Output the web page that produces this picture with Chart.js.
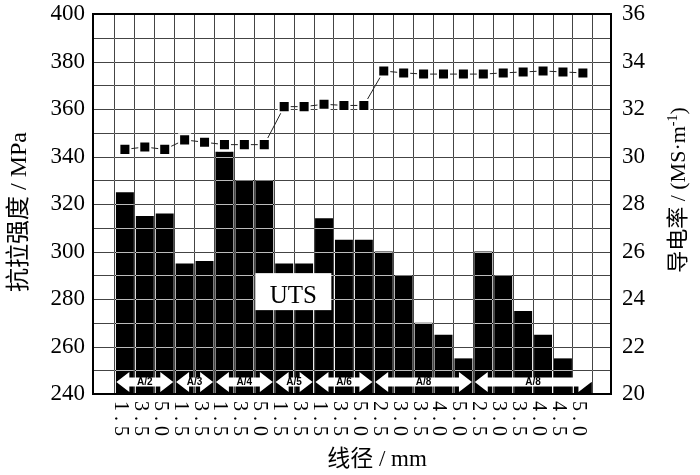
<!DOCTYPE html>
<html>
<head>
<meta charset="utf-8">
<script src="https://cdn.jsdelivr.net/npm/chart.js@4.4.0/dist/chart.umd.min.js"></script>
<style>
html,body{margin:0;padding:0;background:#fff;}
#wrap{width:700px;height:475px;position:relative;}
</style>
</head>
<body>
<div id="wrap"><canvas id="c"></canvas></div>
<script>
// ---- data ----
const categories = ['1.5','3.5','5.0','1.5','3.5','1.5','3.5','5.0','1.5','3.5','1.5','3.5','5.0','2.5','3.0','3.5','4.0','5.0','2.5','3.0','3.5','4.0','4.5','5.0'];
const utsValues = [325,315,316,295,296,342,330,330,295,295,314,305,305,300,290,270,265,255,300,290,275,265,255,245];
const conductivityValues = [30.3,30.4,30.3,30.7,30.6,30.5,30.5,30.5,32.1,32.1,32.2,32.15,32.15,33.6,33.52,33.47,33.47,33.47,33.47,33.52,33.56,33.6,33.56,33.52];
const groupNames = ['A/2','A/3','A/4','A/5','A/6','A/8','A/8'];
const groupSizes = [3,2,3,2,3,5,6];
const leftTicks = [240,260,280,300,320,340,360,380,400];
const rightTicks = [20,22,24,26,28,30,32,34,36];
const leftTitle = '抗拉强度 / MPa';
const rightTitleMain = '导电率 / (MS·m';
const rightTitleSup = '-1';
const rightTitleEnd = ')';
const xTitle = '线径 / mm';
const boxLabel = 'UTS';

const positions = categories.map((_, i) => i + 1);
const serif = '"Liberation Serif", "Noto Sans CJK SC", serif';

const decor = {
  id: 'decor',
  beforeDraw(chart) {
    const ctx = chart.ctx;
    ctx.save();
    ctx.fillStyle = '#fff';
    ctx.fillRect(0, 0, chart.width, chart.height);
    ctx.restore();
  },
  afterDatasetDraw(chart, args) {
    if (args.index !== 1) return;
    const ctx = chart.ctx, a = chart.chartArea, x = chart.scales.x, y = chart.scales.y;
    ctx.save();
    // group arrows
    let start = 1;
    const cy = a.bottom - 12, hl = 13, hh = 10, sh = 4.5;
    groupSizes.forEach((n, g) => {
      const end = start + n - 1;
      const x0 = x.getPixelForValue(start - 0.43), x1 = x.getPixelForValue(end + 0.43);
      ctx.beginPath();
      ctx.moveTo(x0, cy);
      ctx.lineTo(x0 + hl, cy - hh); ctx.lineTo(x0 + hl, cy - sh);
      ctx.lineTo(x1 - hl, cy - sh); ctx.lineTo(x1 - hl, cy - hh);
      ctx.lineTo(x1, cy);
      ctx.lineTo(x1 - hl, cy + hh); ctx.lineTo(x1 - hl, cy + sh);
      ctx.lineTo(x0 + hl, cy + sh); ctx.lineTo(x0 + hl, cy + hh);
      ctx.closePath();
      ctx.fillStyle = '#fff';
      ctx.fill();
      ctx.fillStyle = '#000';
      ctx.font = 'bold 10px "Liberation Sans", sans-serif';
      ctx.textAlign = 'center';
      ctx.textBaseline = 'middle';
      ctx.fillText(groupNames[g], (x0 + x1) / 2, cy + 0.5);
      start = end + 1;
    });
    // horizontal grid (inverted over bars)
    ctx.globalCompositeOperation = 'difference';
    ctx.strokeStyle = '#bbb';
    ctx.lineWidth = 1;
    for (let v = y.min + 10; v < y.max; v += 10) {
      const py = Math.round(y.getPixelForValue(v)) + 0.5;
      ctx.beginPath(); ctx.moveTo(a.left, py); ctx.lineTo(a.right, py); ctx.stroke();
    }
    ctx.globalCompositeOperation = 'source-over';
    // UTS label box
    const bx = x.getPixelForValue(9.46), by = y.getPixelForValue(283.1);
    ctx.fillStyle = '#fff';
    ctx.fillRect(bx - 38, by - 18.5, 76, 37);
    ctx.fillStyle = '#000';
    ctx.font = '25px ' + serif;
    ctx.textAlign = 'center';
    ctx.textBaseline = 'alphabetic';
    ctx.fillText(boxLabel, bx, by + 11);
    ctx.restore();
  },
  afterDraw(chart) {
    const ctx = chart.ctx, a = chart.chartArea, x = chart.scales.x;
    ctx.save();
    // frame
    ctx.strokeStyle = '#000';
    ctx.lineWidth = 2;
    ctx.strokeRect(a.left, a.top, a.right - a.left, a.bottom - a.top);
    // x tick labels, rotated clockwise
    ctx.fillStyle = '#000';
    ctx.font = '20px ' + serif;
    try { ctx.letterSpacing = '5px'; } catch (e) {}
    ctx.textAlign = 'left';
    ctx.textBaseline = 'alphabetic';
    categories.forEach((lab, i) => {
      const px = x.getPixelForValue(positions[i]);
      ctx.save();
      ctx.translate(px - 10, a.bottom + 7);
      ctx.rotate(Math.PI / 2);
      ctx.fillText(lab, 0, 0);
      ctx.restore();
    });
    try { ctx.letterSpacing = '0px'; } catch (e) {}
    // x title
    ctx.font = '23px ' + serif;
    ctx.textAlign = 'center';
    ctx.fillText(xTitle, 377, 466);
    // left title
    ctx.save();
    ctx.translate(26, 212);
    ctx.rotate(-Math.PI / 2);
    ctx.textAlign = 'center';
    ctx.font = '24px ' + serif;
    ctx.fillText(leftTitle, 0, 0);
    ctx.restore();
    // right title
    ctx.save();
    ctx.translate(685, 190);
    ctx.rotate(-Math.PI / 2);
    ctx.textAlign = 'left';
    ctx.font = '22px ' + serif;
    const w1 = ctx.measureText(rightTitleMain).width;
    const w3 = ctx.measureText(rightTitleEnd).width;
    ctx.font = '14px ' + serif;
    const w2 = ctx.measureText(rightTitleSup).width;
    const total = w1 + w2 + w3;
    let sx = -total / 2;
    ctx.font = '22px ' + serif;
    ctx.fillText(rightTitleMain, sx, 0);
    ctx.font = '14px ' + serif;
    ctx.fillText(rightTitleSup, sx + w1, -8);
    ctx.font = '22px ' + serif;
    ctx.fillText(rightTitleEnd, sx + w1 + w2, 0);
    ctx.restore();
    ctx.restore();
  }
};

new Chart(document.getElementById('c'), {
  data: {
    datasets: [
      {
        type: 'line',
        label: '导电率',
        data: positions.map((p, i) => ({ x: p, y: conductivityValues[i] })),
        xAxisID: 'x',
        yAxisID: 'y1',
        borderColor: '#222',
        borderWidth: 1,
        tension: 0,
        pointStyle: 'rect',
        pointRadius: 7.8,
        pointBackgroundColor: '#000',
        pointBorderColor: '#fff',
        pointBorderWidth: 2,
        order: 0
      },
      {
        type: 'bar',
        label: 'UTS',
        data: positions.map((p, i) => ({ x: p, y: utsValues[i] })),
        xAxisID: 'x',
        yAxisID: 'y',
        backgroundColor: '#000',
        borderWidth: 0,
        base: 240,
        barPercentage: 0.9,
        categoryPercentage: 1,
        order: 1
      }
    ]
  },
  options: {
    responsive: true,
    maintainAspectRatio: false,
    animation: false,
    events: [],
    layout: { padding: { top: 14, left: 0, right: 0, bottom: 0 } },
    plugins: { legend: { display: false }, tooltip: { enabled: false } },
    scales: {
      x: {
        type: 'linear',
        position: 'bottom',
        min: -0.06,
        max: 24.87,
        afterBuildTicks: s => { s.ticks = positions.map(v => ({ value: v })); },
        ticks: { display: false },
        grid: { display: true, drawOnChartArea: true, drawTicks: false, color: '#444', lineWidth: 1 },
        border: { display: false },
        afterFit: s => { s.height = 81; s.paddingLeft = 0; s.paddingRight = 0; }
      },
      y: {
        type: 'linear',
        position: 'left',
        min: leftTicks[0],
        max: leftTicks[leftTicks.length - 1],
        afterBuildTicks: s => { s.ticks = leftTicks.map(v => ({ value: v })); },
        ticks: { color: '#000', padding: 8, font: { family: serif, size: 23 } },
        grid: { display: false, drawTicks: false },
        border: { display: false },
        afterFit: s => { s.width = 93; s.paddingTop = 0; s.paddingBottom = 0; }
      },
      y1: {
        type: 'linear',
        position: 'right',
        min: rightTicks[0],
        max: rightTicks[rightTicks.length - 1],
        afterBuildTicks: s => { s.ticks = rightTicks.map(v => ({ value: v })); },
        ticks: { color: '#000', padding: 11, font: { family: serif, size: 23 } },
        grid: { display: false, drawTicks: false },
        border: { display: false },
        afterFit: s => { s.width = 89; s.paddingTop = 0; s.paddingBottom = 0; }
      }
    }
  },
  plugins: [decor]
});
</script>
</body>
</html>
